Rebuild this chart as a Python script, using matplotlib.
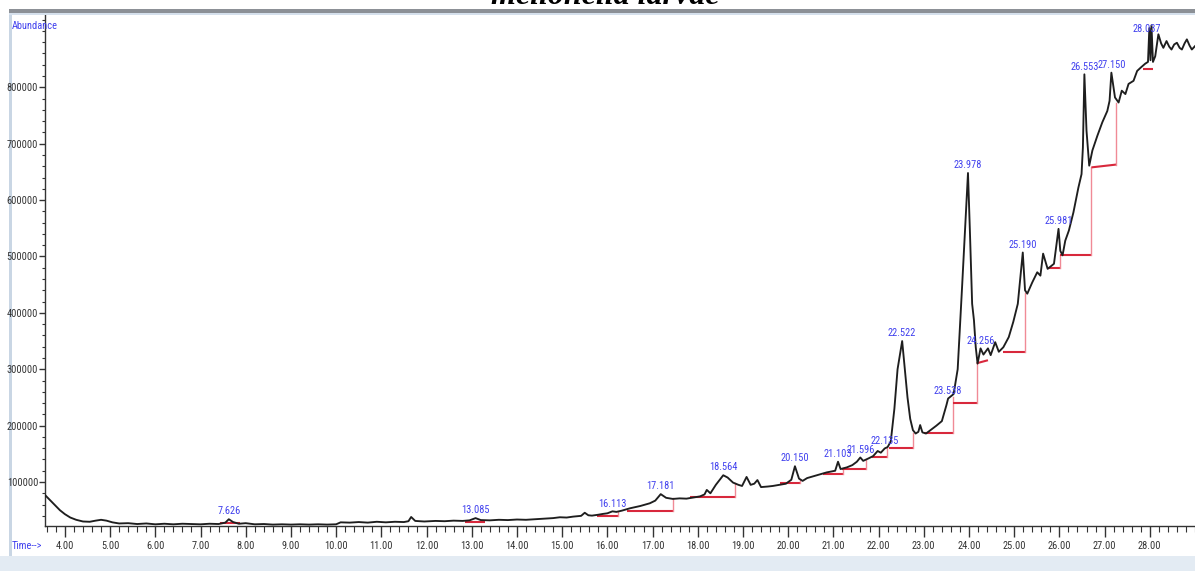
import matplotlib
matplotlib.use("Agg")
import matplotlib.pyplot as plt
import matplotlib.font_manager as fm
from matplotlib.ticker import MultipleLocator, FixedLocator
from matplotlib.patches import Rectangle

# ---------------- data ----------------
rt = [3.56, 3.67, 3.78, 3.89, 4.00, 4.12, 4.25, 4.40, 4.55, 4.68, 4.80, 4.92, 5.05, 5.20, 5.40,
      5.60, 5.80, 6.00, 6.20, 6.40, 6.60, 6.80, 7.00, 7.20, 7.40, 7.55, 7.626, 7.72, 7.85, 8.00,
      8.20, 8.40, 8.60, 8.80, 9.00, 9.20, 9.40, 9.60, 9.80, 10.00, 10.10, 10.30, 10.50, 10.70,
      10.90, 11.10, 11.30, 11.50, 11.60, 11.66, 11.75, 11.95, 12.20, 12.40, 12.60, 12.80, 12.95,
      13.085, 13.20, 13.40, 13.60, 13.80, 14.00, 14.20, 14.40, 14.60, 14.80, 14.95, 15.10, 15.24,
      15.42, 15.50, 15.58, 15.66, 15.80, 15.90, 16.00, 16.113, 16.20, 16.32, 16.50, 16.73, 16.94,
      17.06, 17.181, 17.30, 17.45, 17.60, 17.75, 17.90, 18.05, 18.15, 18.20, 18.28, 18.40, 18.564,
      18.66, 18.78, 18.90, 18.98, 19.08, 19.17, 19.25, 19.32, 19.40, 19.55, 19.66, 19.80, 19.95,
      20.07, 20.15, 20.24, 20.32, 20.42, 20.55, 20.70, 20.85, 20.98, 21.04, 21.103, 21.16, 21.30,
      21.42, 21.52, 21.596, 21.66, 21.78, 21.88, 21.98, 22.05, 22.135, 22.20, 22.27, 22.35, 22.42,
      22.522, 22.58, 22.64, 22.70, 22.76, 22.82, 22.88, 22.92, 22.97, 23.05, 23.15, 23.28, 23.40,
      23.46, 23.50, 23.538, 23.60, 23.66, 23.75, 23.85, 23.978, 24.02, 24.07, 24.11, 24.15, 24.19,
      24.256, 24.32, 24.42, 24.48, 24.58, 24.66, 24.76, 24.88, 24.98, 25.08, 25.19, 25.24, 25.29,
      25.40, 25.51, 25.58, 25.64, 25.74, 25.88, 25.981, 26.02, 26.07, 26.13, 26.21, 26.31, 26.42,
      26.49, 26.52, 26.553, 26.60, 26.66, 26.73, 26.84, 26.95, 27.06, 27.11, 27.15, 27.23, 27.31,
      27.38, 27.46, 27.53, 27.64, 27.72, 27.80, 27.90, 27.96, 27.99, 28.015, 28.037, 28.07, 28.12,
      28.19, 28.25, 28.30, 28.37, 28.43, 28.48, 28.54, 28.60, 28.66, 28.71, 28.77, 28.82, 28.88,
      28.93, 29.00]
abundance = [77000, 68000, 59000, 50000, 43000, 37000, 33000, 30000, 29500, 31500, 33000, 31500,
             28500, 26500, 27000, 25500, 26500, 25000, 26000, 25000, 26000, 25500, 25000, 26000,
             25500, 28000, 34000, 29000, 26000, 27000, 25000, 25500, 24500, 25000, 24500, 25000,
             24500, 25000, 24500, 25000, 28500, 28000, 29000, 28000, 29500, 28500, 29500, 29000,
             30500, 38000, 31000, 30000, 31000, 30500, 31500, 31000, 32000, 36000, 32500, 32000,
             33000, 32500, 33500, 33000, 34000, 35000, 36000, 37500, 37000, 38600, 40000, 45500,
             41000, 40400, 42000, 43400, 44500, 48000, 47000, 49200, 53400, 57500, 62300, 67000,
             78500, 72000, 70000, 71000, 70500, 72500, 74500, 78000, 86000, 80000, 95000, 112000,
             108000, 99000, 95000, 93000, 109000, 95000, 97000, 103500, 91000, 92000, 93000, 95000,
             97000, 104000, 128000, 106000, 102000, 107000, 110000, 113500, 117000, 119000, 120000,
             136000, 123000, 126000, 130000, 136000, 143500, 137500, 142000, 146000, 155000, 152000,
             159500, 162000, 172000, 230000, 300000, 350000, 300000, 250000, 212000, 192000, 186000,
             189000, 201000, 188000, 186000, 192000, 200000, 208000, 225000, 236000, 248000, 252000,
             256000, 300000, 450000, 648000, 546000, 416000, 387000, 339000, 310000, 337000, 326000,
             337000, 325000, 348000, 331000, 339000, 357000, 384000, 416000, 507000, 440000, 434000,
             454000, 472000, 466000, 505000, 478000, 487000, 549000, 510000, 502000, 528000, 546000,
             578000, 622000, 646000, 693000, 823000, 723000, 661000, 688000, 714000, 738000, 758000,
             776000, 826000, 782000, 773000, 794000, 788000, 806000, 811500, 829000, 835000, 842000,
             845000, 905000, 848000, 910000, 845000, 855000, 894000, 878000, 870000, 882000, 872000,
             867000, 876000, 879000, 870000, 867000, 878000, 885000, 874000, 867000, 873000]

peak_labels = ["7.626", "13.085", "16.113", "17.181", "18.564", "20.150", "21.103", "21.596",
               "22.135", "22.522", "23.538", "23.978", "24.256", "25.190", "25.981", "26.553",
               "27.150", "28.037"]

# integration baselines (start time, end time, level at start, level at end, top of drop line)
bl_t0 = [7.43, 12.85, 15.77, 16.43, 17.83, 19.82, 20.77, 21.19, 21.85, 22.23, 23.00, 23.65,
         24.17, 24.75, 25.72, 26.01, 26.71, 27.85]
bl_t1 = [7.87, 13.29, 16.23, 17.45, 18.82, 20.26, 21.21, 21.72, 22.19, 22.77, 23.65, 24.17,
         24.42, 25.24, 26.01, 26.71, 27.26, 28.07]
bl_a0 = [27400, 29200, 39800, 49200, 72900, 98800, 114000, 122500, 144000, 159600, 187300,
         240000, 310600, 330600, 478800, 501800, 658000, 832800]
bl_a1 = [27400, 29200, 39800, 49200, 72900, 98800, 114000, 122500, 144000, 159600, 187300,
         240000, 316000, 330600, 478800, 501800, 663000, 832800]
bl_top = [27400, 29200, 46900, 72000, 98000, 105000, 125000, 139000, 160000, 186700, 251000,
          310600, 316000, 434500, 501800, 658000, 773000, 832800]

y_ticks = [100000, 200000, 300000, 400000, 500000, 600000, 700000, 800000]
x_ticks = list(range(4, 29))

# ---------------- fonts ----------------
entries = fm.fontManager.ttflist
names = {f.name for f in entries}
narrow_name = None
for pref in ["Liberation Sans Narrow", "Roboto Condensed", "Open Sans Condensed",
             "DejaVu Sans Condensed", "Noto Sans Condensed"]:
    if pref in names:
        narrow_name = pref
        break
if narrow_name is None:
    cands = sorted(n for n in names if ("Narrow" in n or "Condensed" in n))
    if cands:
        narrow_name = cands[0]
if narrow_name is not None:
    NARROW = dict(family=narrow_name)
    SMALL = 7.5
else:
    has_cond = any(f.name == "DejaVu Sans" and str(f.stretch) in ("condensed", "semi-condensed")
                   for f in entries)
    if has_cond:
        NARROW = dict(family="DejaVu Sans", fontstretch="condensed")
        SMALL = 7
    else:
        NARROW = dict(family="DejaVu Sans")
        SMALL = 6.4

BLUE = "#4040ee"
W, H = 1195, 571

fig = plt.figure(figsize=(W / 100, H / 100), dpi=100)
fig.patch.set_facecolor("white")


def fx(x):
    return x / W


def fy(y):
    return 1 - y / H


# frame decorations (screenshot window)
fig.add_artist(Rectangle((fx(0), fy(571)), 1, 15 / H, transform=fig.transFigure,
                         facecolor="#e3ebf3", edgecolor="none", zorder=0))
fig.add_artist(Rectangle((fx(9), fy(556)), 3 / W, 543 / H, transform=fig.transFigure,
                         facecolor="#c9d6e4", edgecolor="none", zorder=0))
fig.add_artist(Rectangle((fx(9), fy(13)), 1, 4.5 / H, transform=fig.transFigure,
                         facecolor="#8c9096", edgecolor="none", zorder=5))
fig.add_artist(Rectangle((fx(9), fy(15)), 1, 2 / H, transform=fig.transFigure,
                         facecolor="#d5e0ec", edgecolor="none", zorder=5))

fig.text(fx(605), fy(4), "mellonella larvae", ha="center", va="baseline", fontsize=23,
         fontweight="bold", fontstyle="italic", family="Liberation Serif", color="black",
         zorder=4)

ax = fig.add_axes([fx(45), fy(526), (W - 45) / W, (526 - 14) / H])
ax.set_xlim(3.56, 29.0)
ax.set_ylim(22000, 930000)
ax.set_facecolor("white")
for s in ("top", "right"):
    ax.spines[s].set_visible(False)
for s in ("left", "bottom"):
    ax.spines[s].set_color("#333333")
    ax.spines[s].set_linewidth(1.0)

# baselines
for t0, t1, a0, a1, top in zip(bl_t0, bl_t1, bl_a0, bl_a1, bl_top):
    ax.plot([t0, t1], [a0, a1], color="#d8283c", lw=1.5, zorder=2, solid_capstyle="butt")
    if top != a1:
        ax.plot([t1, t1], [a1, top], color="#f08a96", lw=1.0, zorder=2)

ax.plot(rt, abundance, color="#1e1e1e", lw=1.35, zorder=3)

for lab in peak_labels:
    t = float(lab)
    i = min(range(len(rt)), key=lambda k: abs(rt[k] - t))
    off = (0, 2) if lab != "28.037" else (-3, -6)
    ax.annotate(lab, (rt[i], abundance[i]), xytext=off, textcoords="offset points",
                ha="center", va="bottom", fontsize=SMALL, color=BLUE, zorder=4,
                annotation_clip=False, **NARROW)

ax.xaxis.set_major_locator(FixedLocator(x_ticks))
ax.xaxis.set_minor_locator(MultipleLocator(0.2))
ax.set_xticklabels([f"{v:.2f}" for v in x_ticks])
ax.yaxis.set_major_locator(FixedLocator(y_ticks))
ax.yaxis.set_minor_locator(MultipleLocator(20000))
ax.set_yticklabels([str(v) for v in y_ticks])

ax.tick_params(axis="x", which="major", length=8, width=1, color="#333333", pad=3,
               labelsize=SMALL, labelcolor="#333333")
ax.tick_params(axis="x", which="minor", length=4, width=0.8, color="#333333")
ax.tick_params(axis="y", which="major", length=4, width=1, color="#333333", pad=1,
               labelsize=SMALL, labelcolor="#333333")
ax.tick_params(axis="y", which="minor", length=2, width=0.8, color="#333333")
for lbl in ax.get_xticklabels() + ax.get_yticklabels():
    lbl.set_family(NARROW["family"])
    if "fontstretch" in NARROW:
        lbl.set_fontstretch(NARROW["fontstretch"])

fig.text(fx(12), fy(26), "Abundance", ha="left", va="center", fontsize=SMALL, color=BLUE,
         **NARROW)
fig.text(fx(12), fy(546), "Time-->", ha="left", va="center", fontsize=SMALL, color=BLUE,
         **NARROW)

fig.savefig("out.png", dpi=100)
